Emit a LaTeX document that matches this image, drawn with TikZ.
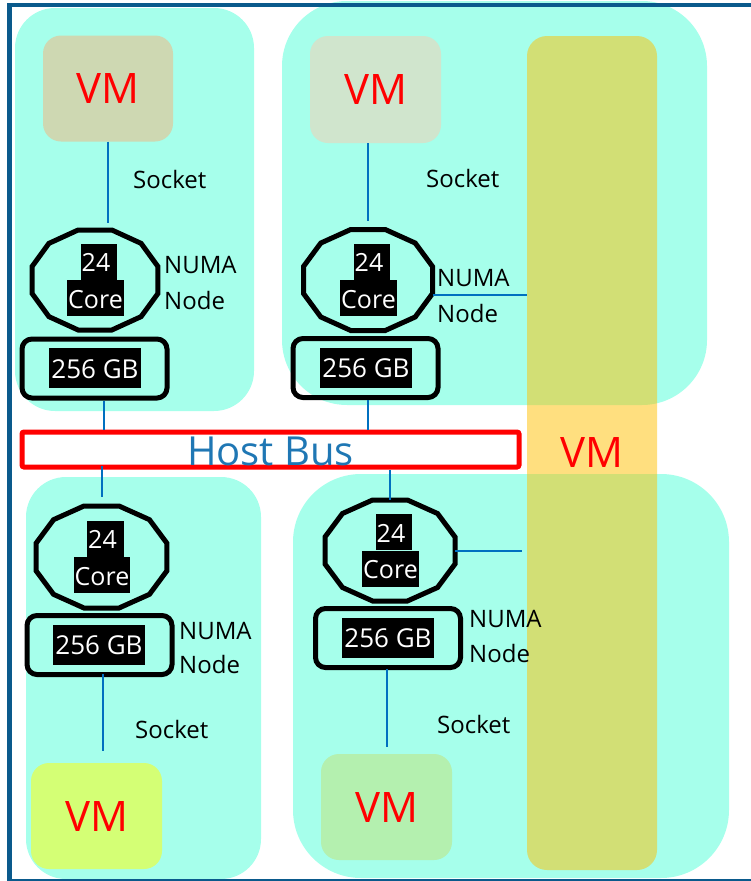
\documentclass[tikz,border=0pt]{standalone}
\usepackage{fontspec}
\setmainfont{Open Sans}
\usetikzlibrary{calc}
\definecolor{panelc}{RGB}{166,255,235}
\definecolor{vmA}{RGB}{206,216,178}
\definecolor{vmB}{RGB}{208,229,205}
\definecolor{vmC}{RGB}{212,255,117}
\definecolor{vmD}{RGB}{180,240,175}
\definecolor{tallc}{RGB}{255,192,0}
\definecolor{linkc}{RGB}{0,112,192}
\definecolor{busc}{RGB}{31,119,180}
\definecolor{framec}{RGB}{10,90,140}
\tikzset{
  panel/.style={fill=panelc},
  vmbox/.style={minimum width=130pt, minimum height=106pt, rounded corners=18pt,
    text=red, font=\fontsize{42}{50}\selectfont, inner sep=0pt},
  link/.style={draw=linkc, line width=2pt},
  hl/.style={fill=black, text=white, inner xsep=1pt, inner ysep=0pt,
    font=\fontsize{25}{30}\selectfont, text height=28pt, text depth=8pt},
  mem/.style={draw=black, line width=5pt, rounded corners=10pt,
    minimum width=145pt, minimum height=59pt, inner sep=0pt},
  memlbl/.style={fill=black, text=white, inner xsep=2.5pt, inner ysep=0pt,
    font=\fontsize{26}{30}\selectfont, text height=30pt, text depth=10pt},
  lbl/.style={font=\fontsize{24}{28}\selectfont, inner sep=0pt, anchor=base west},
  dodecline/.style={draw=black, line width=5pt, line join=miter},
}
% name, x, y, half width, half height
\newcommand\mydodec[5]{%
  \node[inner sep=0pt, minimum width={2*#4pt}, minimum height={2*#5pt}] (#1) at (#2,#3) {};
  \pgfmathsetmacro\myrx{#4/cos(15)}%
  \pgfmathsetmacro\myry{#5/cos(15)}%
  \begin{scope}[shift={(#2,#3)}]
    \draw[dodecline] (15:{\myrx} and {\myry})
      \foreach \ang in {45,75,...,345} { -- (\ang:{\myrx} and {\myry}) } -- cycle;
  \end{scope}
  \node[hl, anchor=south] (#1t) at ($(#1.center)+(4,0)$) {24\kern6pt};
  \node[hl, anchor=north] (#1b) at ($(#1.center)+(0.5,0)$) {Core};
}
\begin{document}
\begin{tikzpicture}[x=1pt,y=-1pt]
\useasboundingbox (0,0) rectangle (751,881);
\clip (0,0) rectangle (751,881);

% panels (sockets)
\fill[panel, rounded corners=40pt] (15,8) rectangle (254,411);
\fill[panel, rounded corners=65pt] (282,1) rectangle (707,405);
\fill[panel, rounded corners=40pt] (26,477) rectangle (261,879);
\fill[panel, rounded corners=68pt] (293,474) rectangle (729,878);

% VMs
\node[vmbox, fill=vmA] (vm1) at (108,88.5) {VM};
\node[vmbox, fill=vmB, minimum width=131pt, minimum height=107pt] (vm2) at (375.5,89.5) {VM};
\node[vmbox, fill=vmC, minimum width=131pt] (vm3) at (96.5,816) {VM};
\node[vmbox, fill=vmD, minimum width=131pt] (vm4) at (386.5,807) {VM};
\node[vmbox, fill=tallc, fill opacity=0.5, text opacity=1, minimum height=834pt,
  rounded corners=20pt] (tall) at (592,453) {VM};

% NUMA nodes: cores
\mydodec{o1}{95}{280}{63}{50}
\mydodec{o2}{368}{280}{64.5}{50.5}
\mydodec{o3}{101.5}{557}{65.5}{51}
\mydodec{o4}{390}{550.5}{65}{50.5}

% memory
\node[mem] (m1) at (94.5,368.5) {};
\node[memlbl] (m1l) at (95,368) {256 GB};
\node[mem] (m2) at (365.5,368) {};
\node[memlbl] (m2l) at (366,367.5) {256 GB};
\node[mem] (m3) at (99.5,645) {};
\node[memlbl] (m3l) at (99,644.5) {256 GB};
\node[mem] (m4) at (388,638) {};
\node[memlbl] (m4l) at (388,637.5) {256 GB};

% host bus
\node[draw=red, line width=5pt, rounded corners=2pt, minimum width=497pt,
  minimum height=35pt, inner sep=0pt] (bus) at (270.5,449.5) {};
\node[font=\fontsize{40}{44}\selectfont, text=busc, inner sep=0pt, anchor=base]
  (bustext) at (270.5,465) {Host Bus};

% connectors
\draw[link, shorten >=7pt] (vm1.south) -- (vm1.south |- o1.north);
\draw[link] ([xshift=9.5pt]m1.south) -- ([xshift=9.5pt]m1.south |- bus.north);
\draw[link, shorten <=-4pt, shorten >=9pt] (o3.north |- bus.south) -- (o3.north);
\draw[link, shorten >=8pt] (o2.north |- vm2.south) -- (o2.north);
\draw[link] (o2.north |- m2.south) -- (o2.north |- bus.north);
\draw[link] (o4.north |- bus.south) -- (o4.north);
\draw[link] ([yshift=-15pt]o2.east) -- ([yshift=-15pt]o2.east -| tall.west);
\draw[link, shorten >=5pt] (o4.east) -- (o4.east -| tall.west);
\draw[link, shorten <=-3pt, shorten >=12pt] ([xshift=3.5pt]m3.south) -- ([xshift=3.5pt]m3.south |- vm3.north);
\draw[link, shorten <=-1pt, shorten >=7pt] ([xshift=-1pt]m4.south) -- ([xshift=-1pt]m4.south |- vm4.north);

% labels
\node[lbl] (s1) at (133,188) {Socket};
\node[lbl] (s2) at (426,187) {Socket};
\node[lbl] (s3) at (135,738) {Socket};
\node[lbl] (s4) at (437,733) {Socket};
\node[lbl] (n1a) at (164,273) {NUMA};
\node[lbl] (n1b) at (164,309) {Node};
\node[lbl] (n2a) at (437,286.5) {NUMA};
\node[lbl] (n2b) at (437,322) {Node};
\node[lbl] (n3a) at (179,639) {NUMA};
\node[lbl] (n3b) at (179,673) {Node};
\node[lbl] (n4a) at (469,627) {NUMA};
\node[lbl] (n4b) at (469,662) {Node};

% outer frame
\draw[framec, line width=4.5pt] (9.5,5) rectangle (760,881.5);
\end{tikzpicture}
\end{document}
